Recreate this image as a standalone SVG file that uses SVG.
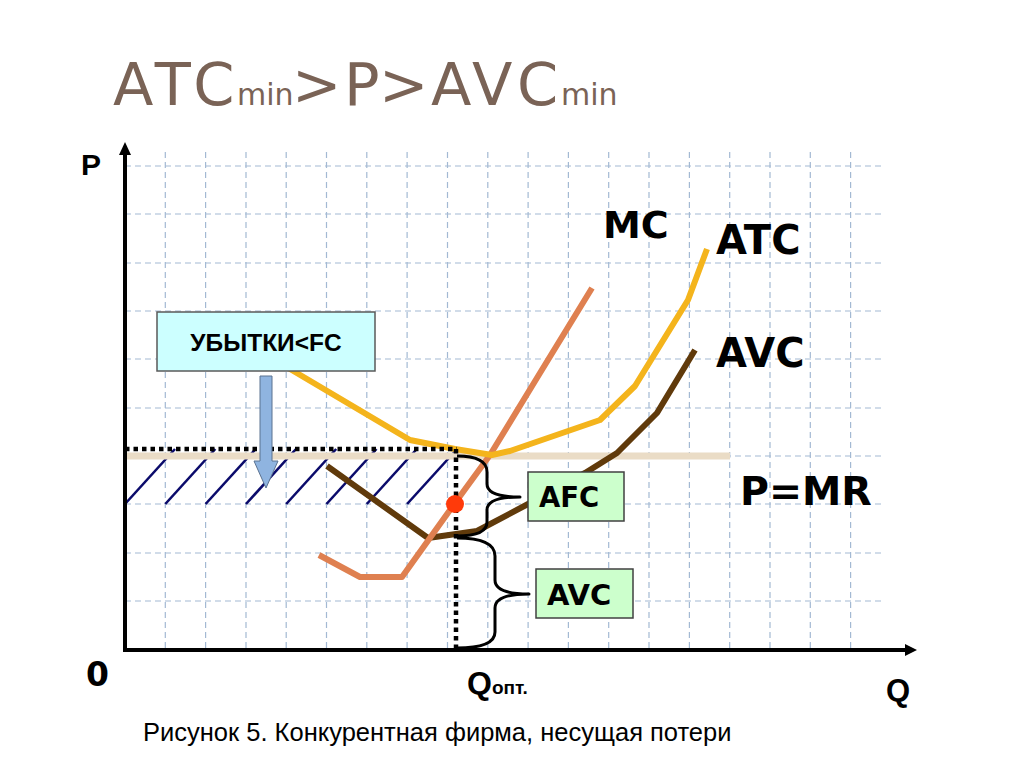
<svg xmlns="http://www.w3.org/2000/svg" width="1024" height="768" viewBox="0 0 1024 768">
<style>
.grid line{stroke:#A3B9D3;stroke-width:1.2;stroke-dasharray:6 4}
.axis{stroke:#000;stroke-width:4;fill:none}
.curve{fill:none;stroke-width:6;stroke-linejoin:round;stroke-linecap:butt}
.hatch line{stroke:#0B0B6B;stroke-width:2.6}
.dotted{stroke:#000;stroke-width:4.5;stroke-dasharray:4.5 4;fill:none}
.brace{fill:none;stroke:#000;stroke-width:3;stroke-linejoin:round}
.lbl{font-family:"DejaVu Sans",Verdana,sans-serif;font-weight:bold;fill:#000}
.arial{font-family:"Liberation Sans",Arial,sans-serif;fill:#000}
.title{font-family:"DejaVu Sans","Open Sans",sans-serif;fill:#7A6356}
</style>
<rect width="1024" height="768" fill="#fff"/>

<g id="title">
<text class="title" y="105"><tspan x="113" font-size="59" letter-spacing="6">ATC</tspan><tspan x="237" font-size="30">min</tspan><tspan x="292" font-size="59">&gt;</tspan><tspan x="344" font-size="59">P</tspan><tspan x="379" font-size="59">&gt;</tspan><tspan x="431" font-size="59" letter-spacing="4.5">AVC</tspan><tspan x="561" font-size="30">min</tspan></text>
</g>

<g id="grid" class="grid">
<line x1="165.3" y1="152" x2="165.3" y2="650"/>
<line x1="205.6" y1="152" x2="205.6" y2="650"/>
<line x1="246" y1="152" x2="246" y2="650"/>
<line x1="286.2" y1="152" x2="286.2" y2="650"/>
<line x1="326.5" y1="152" x2="326.5" y2="650"/>
<line x1="366.8" y1="152" x2="366.8" y2="650"/>
<line x1="407.1" y1="152" x2="407.1" y2="650"/>
<line x1="447.5" y1="152" x2="447.5" y2="650"/>
<line x1="487.8" y1="152" x2="487.8" y2="650"/>
<line x1="528.1" y1="152" x2="528.1" y2="650"/>
<line x1="568.4" y1="152" x2="568.4" y2="650"/>
<line x1="608.7" y1="152" x2="608.7" y2="650"/>
<line x1="649" y1="152" x2="649" y2="650"/>
<line x1="689.4" y1="152" x2="689.4" y2="650"/>
<line x1="729.7" y1="152" x2="729.7" y2="650"/>
<line x1="770" y1="152" x2="770" y2="650"/>
<line x1="810.3" y1="152" x2="810.3" y2="650"/>
<line x1="850.6" y1="152" x2="850.6" y2="650"/>
<line x1="125" y1="166" x2="883" y2="166"/>
<line x1="125" y1="214" x2="883" y2="214"/>
<line x1="125" y1="263" x2="883" y2="263"/>
<line x1="125" y1="311" x2="883" y2="311"/>
<line x1="125" y1="359" x2="883" y2="359"/>
<line x1="125" y1="408" x2="883" y2="408"/>
<line x1="125" y1="456" x2="883" y2="456"/>
<line x1="125" y1="504" x2="883" y2="504"/>
<line x1="125" y1="553" x2="883" y2="553"/>
<line x1="125" y1="601" x2="883" y2="601"/>
</g>

<g id="loss-area" class="hatch">
<line x1="125" y1="504" x2="175" y2="449"/>
<line x1="165.3" y1="504" x2="215.3" y2="449"/>
<line x1="205.6" y1="504" x2="255.6" y2="449"/>
<line x1="246" y1="504" x2="296" y2="449"/>
<line x1="286.2" y1="504" x2="336.2" y2="449"/>
<line x1="326.5" y1="504" x2="376.5" y2="449"/>
<line x1="366.8" y1="504" x2="416.8" y2="449"/>
<line x1="407.1" y1="504" x2="457.1" y2="449"/>
</g>

<g id="p-mr-line">
<line x1="125" y1="456" x2="730" y2="456" stroke="#EADCC6" stroke-width="7"/>
</g>

<g id="curve-avc">
<polyline class="curve" stroke="#603A0B" points="327,466 428,538 477,531 530,503 585,473 617,453 657,413 695,350"/>
</g>
<g id="curve-mc">
<polyline class="curve" stroke="#DF8050" points="319,555 360,577 402,577 455,503 490,455 540,373 592,288"/>
</g>
<g id="curve-atc">
<polyline class="curve" stroke="#F4B41C" points="285,366 410,440 455,449 492,455 510,451 600,420 635,386 688,300 707,249"/>
</g>

<g id="axes">
<polyline class="axis" points="125,154 125,650 906,650"/>
<polygon points="119,155 131,155 125,142" fill="#000"/>
<polygon points="905,644 905,656 917,650" fill="#000"/>
</g>

<g id="connectors">
<path class="dotted" d="M125,449 H457 M456,449 V650"/>
<path class="brace" d="M457,456 Q487,456 487,472 L487,484 Q487,497 520,497 Q487,497 487,510 L487,522 Q487,536 457,536"/>
<path class="brace" d="M457,538 Q495,538 495,556 L495,580 Q495,594 529,594 Q495,594 495,608 L495,632 Q495,648 457,648"/>
<path d="M260,376 H272 V461 H278 L266,488 L254,461 H260 Z" fill="#8FB4E0" stroke="#5B7290" stroke-width="1"/>
</g>

<g id="q-opt-point">
<circle cx="455" cy="504" r="9" fill="#FF3A0A"/>
</g>

<g id="box-loss">
<rect x="157" y="312" width="218" height="59" fill="#CCFFFF" stroke="#5A5A5A" stroke-width="1.5"/>
<text class="arial" x="266" y="351" font-size="24.5" font-weight="bold" text-anchor="middle">УБЫТКИ&lt;FC</text>
</g>

<g id="box-afc">
<rect x="528" y="472" width="96" height="49" fill="#CCFFCC" stroke="#404040" stroke-width="1.5"/>
<text class="lbl" x="539" y="507" font-size="27.5">AFC</text>
</g>

<g id="box-avc">
<rect x="536" y="569" width="97" height="49" fill="#CCFFCC" stroke="#404040" stroke-width="1.5"/>
<text class="lbl" x="547" y="605" font-size="29">AVC</text>
</g>

<g id="labels">
<text class="lbl" x="603" y="238" font-size="38">MC</text>
<text class="lbl" x="716" y="254" font-size="40">ATC</text>
<text class="lbl" x="716" y="367" font-size="40">AVC</text>
<text class="lbl" x="740" y="505" font-size="39.5">P=MR</text>
<text class="arial" x="81" y="175" font-size="30" font-weight="bold">P</text>
<text class="lbl" x="86" y="686" font-size="33">0</text>
<text class="arial" x="886" y="701" font-size="31" font-weight="bold">Q</text>
<text class="arial" y="694" font-weight="bold"><tspan x="467" font-size="32">Q</tspan><tspan font-size="19">опт.</tspan></text>
<text class="arial" x="143" y="741" font-size="25.5">Рисунок 5. Конкурентная фирма, несущая потери</text>
</g>
</svg>
